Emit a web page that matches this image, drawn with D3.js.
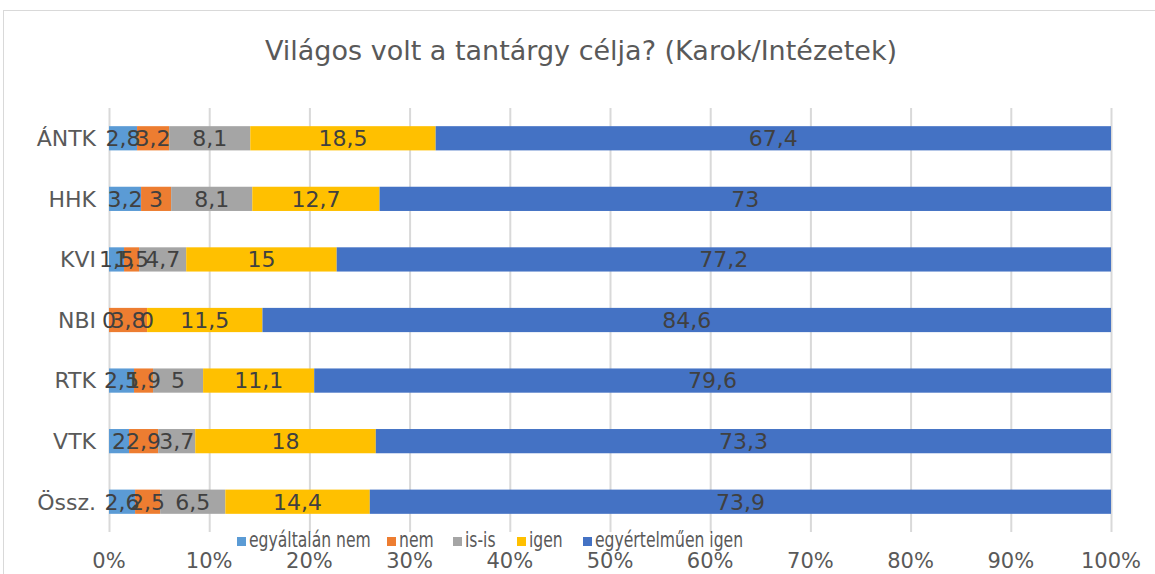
<!DOCTYPE html>
<html>
<head>
<meta charset="utf-8">
<script src="https://cdn.jsdelivr.net/npm/d3@7"></script>
<style>
  body { margin: 0; background: #fff; }
  text { font-family: "DejaVu Sans", Verdana, sans-serif; }
</style>
</head>
<body>
<div id="chart"></div>
<script>
const categories = ["ÁNTK", "HHK", "KVI", "NBI", "RTK", "VTK", "Össz."];
const seriesNames = ["egyáltalán nem", "nem", "is-is", "igen", "egyértelműen igen"];
const seriesColors = ["#5B9BD5", "#ED7D31", "#A5A5A5", "#FFC000", "#4472C4"];
const egyaltalanNem = [2.8, 3.2, 1.5, 0, 2.5, 2, 2.6];
const nem = [3.2, 3, 1.5, 3.8, 1.9, 2.9, 2.5];
const isIs = [8.1, 8.1, 4.7, 0, 5, 3.7, 6.5];
const igen = [18.5, 12.7, 15, 11.5, 11.1, 18, 14.4];
const egyertelmuenIgen = [67.4, 73, 77.2, 84.6, 79.6, 73.3, 73.9];
const tickValues = [0, 10, 20, 30, 40, 50, 60, 70, 80, 90, 100];

const width = 1155, height = 574;
const margin = {top: 108, left: 109, right: 44, bottom: 42};

const svg = d3.select("#chart").append("svg")
    .attr("width", width)
    .attr("height", height);

// chart frame
svg.append("rect")
    .attr("x", 3.5).attr("y", 10.5)
    .attr("width", width).attr("height", height)
    .attr("fill", "#fff")
    .attr("stroke", "#D9D9D9");

svg.append("text")
    .attr("x", 581)
    .attr("y", 60)
    .attr("text-anchor", "middle")
    .attr("font-size", "27px")
    .attr("fill", "#595959")
    .text("Világos volt a tantárgy célja? (Karok/Intézetek)");

const x = d3.scaleLinear()
    .domain([0, 100])
    .range([margin.left, width - margin.right]);

const y = d3.scaleBand()
    .domain(categories)
    .range([margin.top, 532])
    .paddingInner(0.6)
    .paddingOuter(0.3);

// gridlines
svg.append("g")
    .selectAll("line")
    .data(tickValues)
    .enter()
    .append("line")
    .attr("x1", d => x(d) + 0.5)
    .attr("x2", d => x(d) + 0.5)
    .attr("y1", margin.top)
    .attr("y2", 532)
    .attr("stroke", "#D9D9D9")
    .attr("stroke-width", 2);

const allSeries = [egyaltalanNem, nem, isIs, igen, egyertelmuenIgen];
const rows = categories.map((c, i) => {
    const vals = allSeries.map(s => s[i]);
    const total = d3.sum(vals);
    let acc = 0;
    return vals.map((v, k) => {
        const seg = {cat: c, k: k, value: v, x0: acc / total * 100, x1: (acc + v) / total * 100};
        acc += v;
        return seg;
    });
});
const segments = rows.flat();

svg.append("g")
    .selectAll("rect")
    .data(segments)
    .enter()
    .append("rect")
    .attr("x", d => x(d.x0))
    .attr("y", d => y(d.cat))
    .attr("width", d => x(d.x1) - x(d.x0))
    .attr("height", y.bandwidth())
    .attr("fill", d => seriesColors[d.k]);

svg.append("g")
    .selectAll("text")
    .data(segments)
    .enter()
    .append("text")
    .attr("x", d => (x(d.x0) + x(d.x1)) / 2)
    .attr("y", d => y(d.cat) + y.bandwidth() / 2)
    .attr("dy", "0.36em")
    .attr("text-anchor", "middle")
    .attr("font-size", "22px")
    .attr("fill", "#404040")
    .text(d => String(d.value).replace(".", ","));

// category labels
svg.append("g")
    .selectAll("text")
    .data(categories)
    .enter()
    .append("text")
    .attr("x", 96)
    .attr("y", d => y(d) + y.bandwidth() / 2)
    .attr("dy", "0.36em")
    .attr("text-anchor", "end")
    .attr("font-size", "22px")
    .attr("fill", "#595959")
    .text(d => d);

// x axis labels
svg.append("g")
    .selectAll("text")
    .data(tickValues)
    .enter()
    .append("text")
    .attr("x", d => x(d))
    .attr("y", 568)
    .attr("text-anchor", "middle")
    .attr("font-size", "21px")
    .attr("fill", "#595959")
    .text(d => d + "%");

// legend
const legendX = [237, 387, 453, 517, 583];
const legend = svg.append("g")
    .selectAll("g")
    .data(seriesNames)
    .enter()
    .append("g")
    .attr("transform", (d, i) => `translate(${legendX[i]},547)`);

legend.append("rect")
    .attr("x", 0).attr("y", -10)
    .attr("width", 9).attr("height", 9)
    .attr("fill", (d, i) => seriesColors[i]);

legend.append("text")
    .attr("transform", "translate(12,0) scale(0.71,1)")
    .attr("font-size", "22px")
    .attr("fill", "#595959")
    .text(d => d);
</script>
</body>
</html>
